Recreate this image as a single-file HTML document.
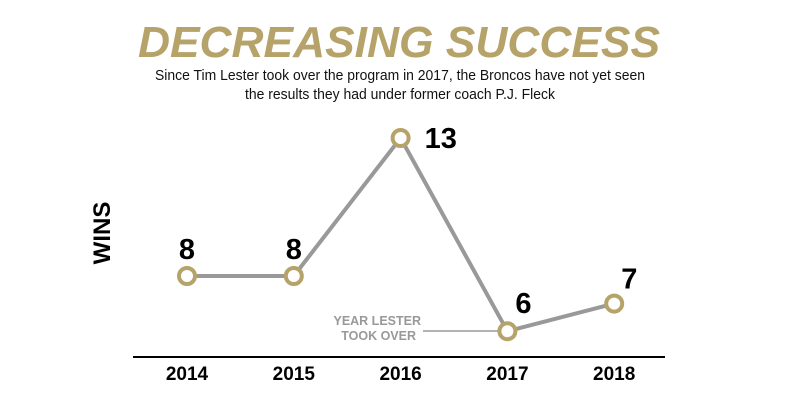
<!DOCTYPE html>
<html><head><meta charset="utf-8"><style>
html,body{margin:0;padding:0;background:#fff;}
svg{display:block;font-family:"Liberation Sans",sans-serif;}
</style></head><body>
<svg id="chart" width="800" height="400" viewBox="0 0 800 400">
<text x="399" y="57" text-anchor="middle" font-size="44" font-weight="bold" font-style="italic" fill="#b5a369" textLength="522" lengthAdjust="spacingAndGlyphs">DECREASING SUCCESS</text>
<text x="400" y="80" text-anchor="middle" font-size="14.5" fill="#111" textLength="490" lengthAdjust="spacingAndGlyphs">Since Tim Lester took over the program in 2017, the Broncos have not yet seen</text>
<text x="400" y="99" text-anchor="middle" font-size="14.5" fill="#111" textLength="310" lengthAdjust="spacingAndGlyphs">the results they had under former coach P.J. Fleck</text>
<text transform="translate(110,233) rotate(-90)" text-anchor="middle" font-size="24" font-weight="bold" fill="#000">WINS</text>
<line x1="133" y1="357" x2="665" y2="357" stroke="#000" stroke-width="2"/>
<text x="421" y="325" text-anchor="end" font-size="12.5" font-weight="bold" fill="#999">YEAR LESTER</text>
<text x="416" y="340" text-anchor="end" font-size="12.5" font-weight="bold" fill="#999">TOOK OVER</text>
<line x1="423" y1="331" x2="498" y2="331" stroke="#999" stroke-width="1.5"/>
<g id="marks"></g>
</svg>
<script>
const years = ["2014","2015","2016","2017","2018"];
const wins = [8, 8, 13, 6, 7];
const xPos = i => 187 + i * 106.8;
const yPos = v => 276 - (v - 8) * 27.6;
const ns = "http://www.w3.org/2000/svg";
const g = document.getElementById("marks");
const line = document.createElementNS(ns, "polyline");
line.setAttribute("points", wins.map((v,i)=>xPos(i)+","+yPos(v)).join(" "));
line.setAttribute("fill","none");line.setAttribute("stroke","#999");line.setAttribute("stroke-width","4");


g.appendChild(line);
const dx = [0, 0, 24, 8, 7];
const dy = [-17, -17, 10, -18, -15];
const anchors = ["middle","middle","start","start","start"];
wins.forEach((v,i)=>{
  const c = document.createElementNS(ns,"circle");
  c.setAttribute("cx",xPos(i));c.setAttribute("cy",yPos(v));c.setAttribute("r","8");
  c.setAttribute("fill","#fff");c.setAttribute("stroke","#b5a369");c.setAttribute("stroke-width","4");
  
  
  g.appendChild(c);
  const t = document.createElementNS(ns,"text");
  t.setAttribute("x", xPos(i)+dx[i]);
  t.setAttribute("y", yPos(v)+dy[i]);
  t.setAttribute("text-anchor", anchors[i]);
  t.setAttribute("font-size","29");t.setAttribute("font-weight","bold");t.setAttribute("fill","#000");
  t.textContent = v;
  
  
  g.appendChild(t);
  const yl = document.createElementNS(ns,"text");
  yl.setAttribute("x", xPos(i));yl.setAttribute("y","380");yl.setAttribute("text-anchor","middle");
  yl.setAttribute("font-size","19");yl.setAttribute("font-weight","bold");yl.setAttribute("fill","#000");
  yl.textContent = years[i];
  
  
  g.appendChild(yl);
});
</script>
</body></html>
